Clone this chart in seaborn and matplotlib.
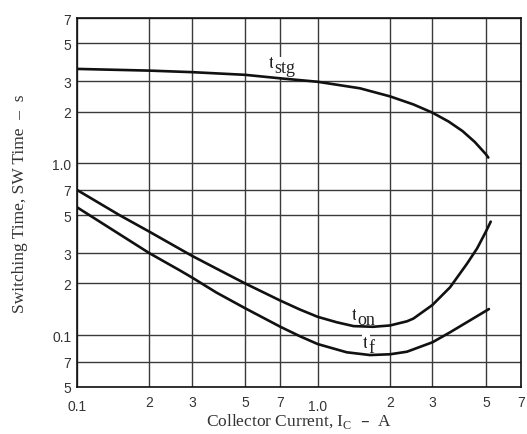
import numpy as np
import pandas as pd
import matplotlib
matplotlib.use("Agg")
import matplotlib.pyplot as plt
import seaborn as sns

# Collector current (A) and switching times (s) for each curve
ic_stg = [0.1, 0.2, 0.3, 0.5, 0.7, 1.0, 1.5, 2.0, 2.5, 3.0, 3.5, 4.0, 4.5, 5.0, 5.12]
t_stg = [3.54, 3.46, 3.39, 3.27, 3.12, 2.98, 2.73, 2.45, 2.20, 1.97, 1.75, 1.54, 1.33, 1.13, 1.08]

ic_on = [0.1, 0.15, 0.2, 0.3, 0.38, 0.5, 0.7, 0.845, 1.0, 1.2, 1.41, 1.7, 2.0, 2.35, 2.5,
         3.0, 3.55, 4.17, 4.6, 5.0, 5.24]
t_on = [0.70, 0.50, 0.40, 0.29, 0.244, 0.20, 0.159, 0.141, 0.128, 0.119, 0.113, 0.112, 0.114,
        0.1205, 0.125, 0.15, 0.19, 0.26, 0.32, 0.40, 0.458]

ic_f = [0.1, 0.2, 0.268, 0.3, 0.38, 0.5, 0.7, 0.845, 1.0, 1.32, 1.65, 2.0, 2.35, 2.5, 3.0,
        3.55, 4.17, 5.15]
t_f = [0.555, 0.30, 0.238, 0.217, 0.177, 0.1435, 0.112, 0.0986, 0.0889, 0.0796, 0.0767, 0.0775,
       0.0802, 0.0828, 0.091, 0.104, 0.119, 0.142]

# Axis ticks and their printed labels
x_ticks = [0.1, 0.2, 0.3, 0.5, 0.7, 1.0, 2.0, 3.0, 5.0, 7.0]
x_labels = ["0.1", "2", "3", "5", "7", "1.0", "2", "3", "5", "7"]
y_ticks = [0.05, 0.07, 0.1, 0.2, 0.3, 0.5, 0.7, 1.0, 2.0, 3.0, 5.0, 7.0]
y_labels = ["5", "7", "0.1", "2", "3", "5", "7", "1.0", "2", "3", "5", "7"]

sns.set_theme(style="white")
plt.rcParams["font.family"] = ["Liberation Sans", "DejaVu Sans"]

df = pd.concat([
    pd.DataFrame({"ic": ic_stg, "t": t_stg, "curve": "stg"}),
    pd.DataFrame({"ic": ic_on, "t": t_on, "curve": "on"}),
    pd.DataFrame({"ic": ic_f, "t": t_f, "curve": "f"}),
])

fig = plt.figure(figsize=(5.27, 4.35), dpi=100)
ax = fig.add_axes([77 / 527, 47 / 435, 444 / 527, 369 / 435])

ax.set_xscale("log")
ax.set_yscale("log")
ax.set_xlim(0.1, 7.0)
ax.set_ylim(0.05, 7.0)

sns.lineplot(data=df, x="ic", y="t", hue="curve", units="curve", estimator=None,
             palette={"stg": "#111111", "on": "#111111", "f": "#111111"},
             linewidth=1.9, legend=False, sort=True, ax=ax, zorder=4)
for line in ax.get_lines():
    line.set_solid_joinstyle("round")
    line.set_solid_capstyle("round")

ax.xaxis.set_major_locator(matplotlib.ticker.FixedLocator(x_ticks))
ax.xaxis.set_minor_locator(matplotlib.ticker.NullLocator())
ax.yaxis.set_major_locator(matplotlib.ticker.FixedLocator(y_ticks))
ax.yaxis.set_minor_locator(matplotlib.ticker.NullLocator())
ax.set_xticklabels(x_labels)
ax.set_yticklabels(y_labels)
ax.tick_params(axis="both", length=0, labelsize=10, labelcolor="#333333")
ax.tick_params(axis="x", pad=5.5)
ax.tick_params(axis="y", pad=4)
for i, tick in enumerate(ax.xaxis.get_major_ticks()):
    if x_labels[i] in ("0.1", "1.0"):
        tick.set_pad(8.5)

ax.grid(True, which="major", color="#3a3a3a", linewidth=1.0)
ax.set_axisbelow(True)
for sp in ax.spines.values():
    sp.set_color("#111111")
    sp.set_linewidth(1.2)
    sp.set_zorder(5)

serif = ["Liberation Serif", "DejaVu Serif"]
ax.set_xlabel("Collector Current, I$_{\\mathregular{C}}$  \u2013  A", family=serif,
              fontsize=12.5, color="#333333")
ax.xaxis.set_label_coords(0.5, -0.066)
ax.set_ylabel("Switching Time, SW Time  \u2013  s", family=serif,
              fontsize=12.5, color="#333333")
ax.yaxis.set_label_coords(-0.11, 0.5)


def curve_label(x, y, sub, sub_dx):
    box = dict(facecolor="white", edgecolor="none", pad=1.0)
    ax.text(x, y, "t", family=serif, fontsize=14, color="#222222",
            ha="left", va="baseline", zorder=3, bbox=box)
    ax.annotate(sub, xy=(x, y), xytext=(sub_dx, -3.5), textcoords="offset points",
                family=serif, fontsize=13, color="#222222",
                ha="left", va="baseline", zorder=3, bbox=box)


curve_label(0.628, 3.64, "stg", 4.0)
curve_label(1.39, 0.124, "on", 4.0)
curve_label(1.545, 0.0855, "f", 4.0)

fig.savefig("out.png", dpi=100)
